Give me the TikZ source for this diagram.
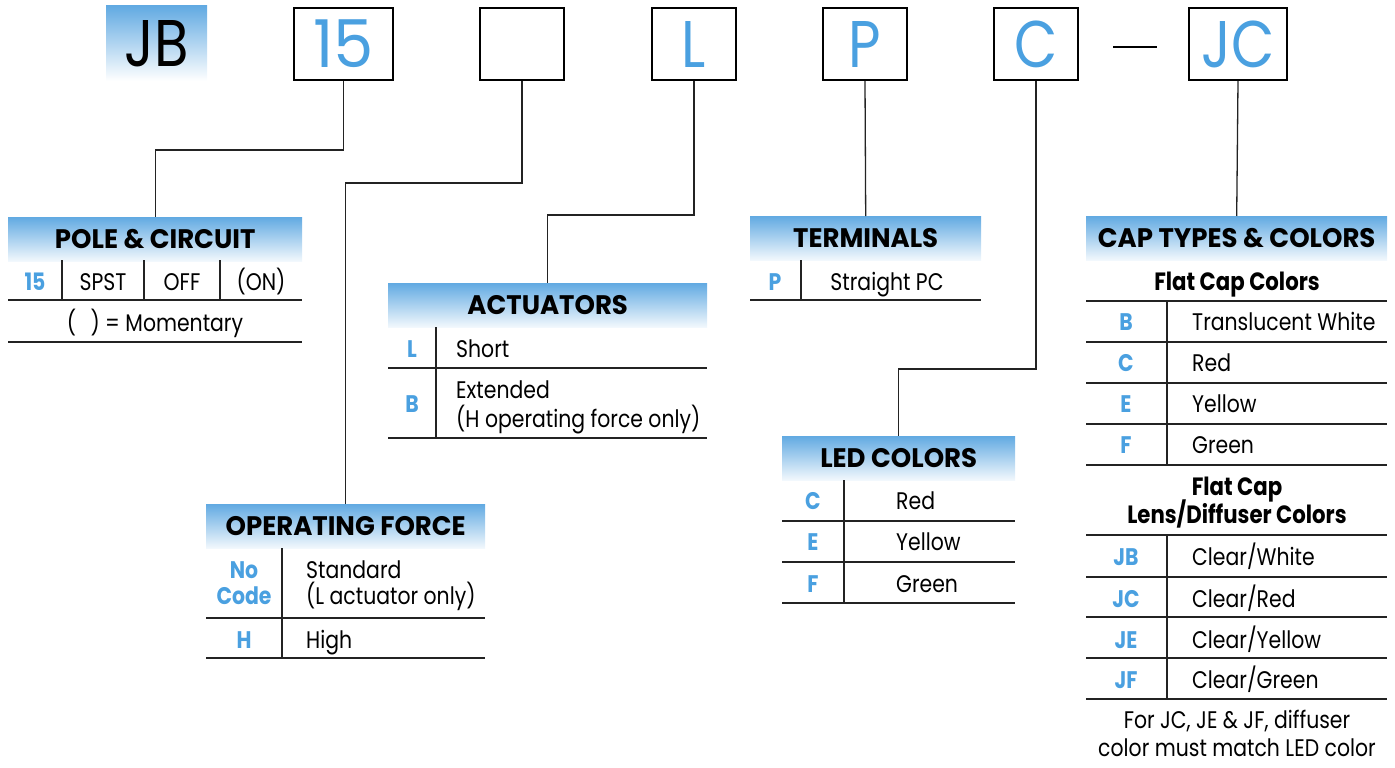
\documentclass[tikz,border=0pt]{standalone}
\usepackage{fontspec}
\setmainfont{Poppins}[FakeStretch=0.85]
\newfontfamily\hdrfam{Poppins}[FakeStretch=0.97]
\definecolor{cblue}{RGB}{74,160,224}
\definecolor{hblue}{RGB}{98,170,226}
\definecolor{lgray}{RGB}{35,35,35}
\newcommand{\bodyf}{\fontsize{24}{28}\selectfont}
\newcommand{\hdrf}{\hdrfam\fontsize{26.8}{28}\selectfont\bfseries}
\newcommand{\bigf}{\fontsize{66}{66}\selectfont}
\tikzset{
  codebox/.style={draw=black,line width=2pt,minimum width=84pt,minimum height=72pt,inner sep=0pt,text=cblue,font=\bigf},
  jbbox/.style={top color=hblue,bottom color=white,minimum width=101pt,minimum height=75pt,inner sep=0pt,text=black,font=\bigf},
  hdr/.style={top color=hblue,bottom color=hblue!8,inner sep=0pt,minimum height=44pt,anchor=north west,font=\hdrf},
  cell/.style={anchor=base,inner sep=0pt,font=\bodyf},
  lcell/.style={anchor=base west,inner sep=0pt,font=\bodyf},
  code/.style={anchor=base,inner sep=0pt,font=\bodyf\bfseries,text=cblue},
  bcell/.style={anchor=base,inner sep=0pt,font=\fontsize{25}{28}\selectfont\bfseries},
  rule/.style={line width=1.4pt,draw=lgray},
  conn/.style={line width=1.3pt,draw=lgray}
}
\begin{document}
\begin{tikzpicture}[x=1pt,y=-1pt]
\useasboundingbox (0,0) rectangle (1395,768);

% ---- top code boxes
\node[jbbox] (bJB) at (156.5,43.5) {JB};
\node[codebox,minimum width=99pt,font=\hdrfam\fontsize{66}{66}\selectfont] (b15) at (343.5,44) {15};
\node[codebox] (bblank) at (522,44) {};
\node[codebox] (bL) at (694,44) {L};
\node[codebox] (bP) at (865,44) {P};
\node[codebox] (bC) at (1036,44) {C};
\node[codebox,minimum width=98pt] (bJC) at (1238,44) {JC};
\coordinate (d1) at (1113,47);
\coordinate (d2) at (1157,47);
\draw[line width=2.2pt] (d1) -- (d2);

% ---- headers
\node[hdr,minimum width=294pt] (poleh) at (8,217) {POLE \& CIRCUIT};
\node[hdr,minimum width=319pt] (acth) at (388,283) {ACTUATORS};
\node[hdr,minimum width=279pt] (oph) at (206,504) {OPERATING FORCE};
\node[hdr,minimum width=231pt] (termh) at (750,216) {TERMINALS};
\node[hdr,minimum width=233pt] (ledh) at (782,436) {LED COLORS};
\node[hdr,minimum width=301pt] (caph) at (1086,216) {CAP TYPES \& COLORS};

% ---- connectors
\draw[conn] (b15.south) -- ++(0,69) -| (poleh.north);
\draw[conn] (bblank.south) -- ++(0,102) -| (oph.north);
\draw[conn] (bL.south) -- ++(0,134) -| (acth.north);
\draw[conn] (bP.south) -- (termh.north);
\draw[conn] (bC.south) -- ++(0,288) -| (ledh.north);
\draw[conn] (bJC.south) -- (caph.north);

% ---- pole & circuit
\draw[rule] (62,260) -- (62,300) (144,260) -- (144,300) (220,260) -- (220,300);
\draw[rule] (8,300) -- (302,300) (8,342) -- (302,342);
\node[code] (p15) at (35,290) {15};
\node[cell] (pspst) at (103,290) {SPST};
\node[cell] (poff) at (182,290) {OFF};
\node[cell] (pon) at (261,290) {(ON)};
\node[cell] (pmom) at (155,331) {(\hspace{0.6em}) = Momentary};

% ---- actuators
\draw[rule] (436,327) -- (436,438);
\draw[rule] (388,368) -- (707,368) (388,438) -- (707,438);
\node[code] (aL) at (412,357) {L};
\node[lcell] (aLt) at (456,357) {Short};
\node[code] (aB) at (412,412) {B};
\node[lcell] (aBt1) at (456,398) {Extended};
\node[lcell] (aBt2) at (456,427) {(H operating force only)};

% ---- operating force
\draw[rule] (282,548) -- (282,658);
\draw[rule] (206,618) -- (485,618) (206,658) -- (485,658);
\node[code] (oNo) at (244,578) {No};
\node[code] (oCode) at (244,604) {Code};
\node[lcell] (oS1) at (306,578) {Standard};
\node[lcell] (oS2) at (306,604) {(L actuator only)};
\node[code] (oH) at (244,648) {H};
\node[lcell] (oHt) at (306,648) {High};

% ---- terminals
\draw[rule] (801,260) -- (801,300);
\draw[rule] (750,300) -- (981,300);
\node[code] (tP) at (775,290) {P};
\node[cell] (tPt) at (887,290) {Straight PC};

% ---- LED colors
\draw[rule] (844,480) -- (844,603);
\draw[rule] (782,521) -- (1015,521) (782,562) -- (1015,562) (782,603) -- (1015,603);
\node[code] (lC) at (813,509) {C};
\node[lcell] (lCt) at (896,509) {Red};
\node[code] (lE) at (813,550) {E};
\node[lcell] (lEt) at (896,550) {Yellow};
\node[code] (lF) at (813,592) {F};
\node[lcell] (lFt) at (896,592) {Green};

% ---- cap types & colors
\node[bcell] (cfl) at (1237,290) {Flat Cap Colors};
\draw[rule] (1086,301) -- (1387,301);
\draw[rule] (1167,301) -- (1167,465);
\draw[rule] (1086,342) -- (1387,342) (1086,383) -- (1387,383) (1086,424) -- (1387,424) (1086,465) -- (1387,465);
\node[code] (cB) at (1126,330) {B};
\node[lcell] (cBt) at (1192,330) {Translucent White};
\node[code] (cC) at (1126,371) {C};
\node[lcell] (cCt) at (1192,371) {Red};
\node[code] (cE) at (1126,412) {E};
\node[lcell] (cEt) at (1192,412) {Yellow};
\node[code] (cF) at (1126,453) {F};
\node[lcell] (cFt) at (1192,453) {Green};
\node[bcell] (cl1) at (1237,495) {Flat Cap};
\node[bcell] (cl2) at (1237,523) {Lens/Diffuser Colors};
\draw[rule] (1086,535) -- (1387,535);
\draw[rule] (1167,535) -- (1167,699);
\draw[rule] (1086,577) -- (1387,577) (1086,617) -- (1387,617) (1086,658) -- (1387,658) (1086,699) -- (1387,699);
\node[code] (cJB) at (1126,565) {JB};
\node[lcell] (cJBt) at (1192,565) {Clear/White};
\node[code] (cJC) at (1126,607) {JC};
\node[lcell] (cJCt) at (1192,607) {Clear/Red};
\node[code] (cJE) at (1126,648) {JE};
\node[lcell] (cJEt) at (1192,648) {Clear/Yellow};
\node[code] (cJF) at (1126,688) {JF};
\node[lcell] (cJFt) at (1192,688) {Clear/Green};
\node[cell] (cn1) at (1237,728) {For JC, JE \& JF, diffuser};
\node[cell] (cn2) at (1237,756) {color must match LED color};
\end{tikzpicture}
\end{document}
